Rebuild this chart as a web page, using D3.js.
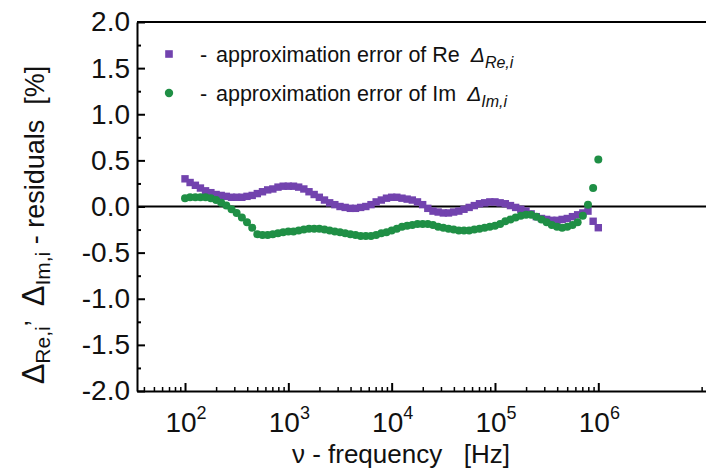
<!DOCTYPE html>
<html><head><meta charset="utf-8">
<script src="https://cdn.jsdelivr.net/npm/d3@7"></script>
<style>
body{margin:0;background:#fff}
svg{display:block}
text{font-family:"Liberation Sans",Arial,sans-serif;fill:#111}
</style>
</head><body>
<svg id="c" width="706" height="473"></svg>
<script>
// ---- data ----
const freq = [100,112,126,141,158,178,200,224,251,282,316,355,398,447,501,562,631,708,794,891,
  1000,1122,1259,1413,1585,1778,1995,2239,2512,2818,3162,3548,3981,4467,5012,5623,6310,7079,7943,8913,
  10000,11220,12589,14125,15849,17783,19953,22387,25119,28184,31623,35481,39811,44668,50119,56234,63096,70795,79433,89125,
  100000,112202,125893,141254,158489,177828,199526,223872,251189,281838,316228,354813,398107,446684,501187,562341,630957,707946,794328,891251,
  1000000];
const reErr = [0.30,0.26,0.23,0.20,0.17,0.15,0.13,0.12,0.11,0.10,0.10,0.10,0.11,0.12,0.14,0.16,0.18,0.19,0.21,0.22,
  0.22,0.22,0.21,0.19,0.16,0.13,0.10,0.07,0.04,0.02,0.00,-0.01,-0.02,-0.02,-0.01,0.00,0.02,0.05,0.07,0.09,
  0.10,0.10,0.09,0.08,0.07,0.05,0.02,-0.02,-0.05,-0.06,-0.07,-0.07,-0.06,-0.05,-0.03,-0.01,0.01,0.03,0.04,0.05,
  0.05,0.04,0.03,0.01,-0.01,-0.03,-0.05,-0.08,-0.11,-0.13,-0.14,-0.15,-0.15,-0.14,-0.13,-0.11,-0.09,-0.07,-0.05,-0.16,
  -0.23];
const imErr = [0.09,0.10,0.10,0.10,0.10,0.09,0.07,0.04,0.01,-0.03,-0.07,-0.12,-0.17,-0.23,-0.30,-0.31,-0.31,-0.30,-0.29,-0.28,
  -0.27,-0.27,-0.26,-0.25,-0.24,-0.24,-0.24,-0.25,-0.26,-0.27,-0.28,-0.29,-0.30,-0.31,-0.32,-0.32,-0.32,-0.31,-0.29,-0.28,
  -0.26,-0.24,-0.22,-0.21,-0.20,-0.19,-0.19,-0.19,-0.20,-0.22,-0.23,-0.24,-0.25,-0.26,-0.26,-0.26,-0.25,-0.24,-0.23,-0.22,
  -0.21,-0.19,-0.16,-0.14,-0.12,-0.10,-0.09,-0.09,-0.11,-0.14,-0.17,-0.20,-0.22,-0.23,-0.22,-0.20,-0.17,-0.10,0.02,0.20,
  0.51];
const yTicks = [-2.0,-1.5,-1.0,-0.5,0.0,0.5,1.0,1.5,2.0];
const yMinor = [-1.75,-1.25,-0.75,-0.25,0.25,0.75,1.25,1.75];
const xTickExps = [2,3,4,5,6];
const legendLabels = ["approximation error of Re","approximation error of Im"];
const legendSubs = ["Re,i","Im,i"];
const colPurple = "#7243ae", colGreen = "#1f8f45";

// ---- layout ----
const pL = 137, pT = 22, pB = 391, pR = 712;
const x = d3.scaleLog().domain([34.3, 1.26e7]).range([pL, pR]);
const y = d3.scaleLinear().domain([-2, 2]).range([pB, pT]);
const svg = d3.select("#c");

// minor x ticks (2..9 per decade, up to 10^6; one short tick at 10^7)
const xMinor = [1e7];
for (let e = 1; e <= 5; e++) for (let m = 2; m <= 9; m++) {
  const v = m * Math.pow(10, e);
  if (v > x.domain()[0] && v < x.domain()[1]) xMinor.push(v);
}

// frame lines (top, zero)
svg.append("line").attr("x1", pL).attr("x2", pR).attr("y1", pT).attr("y2", pT)
  .attr("stroke", "#000").attr("stroke-width", 2);
svg.append("line").attr("x1", pL).attr("x2", pR).attr("y1", y(0)).attr("y2", y(0))
  .attr("stroke", "#000").attr("stroke-width", 2.2);

// y axis
const yAxis = svg.append("g").attr("transform", `translate(${pL},0)`)
  .call(d3.axisLeft(y).tickValues(yTicks).tickSizeInner(-8).tickSizeOuter(0).tickPadding(7)
    .tickFormat(d3.format(".1f")));
yAxis.select(".domain").attr("stroke-width", 2);
yAxis.selectAll(".tick line").attr("stroke-width", 2);
yAxis.selectAll("text").style("font-size", "28px").attr("fill", "#111")
  .text(d => d3.format(".1f")(d).replace("\u2212", "-"));
const yAxisMinor = svg.append("g").attr("transform", `translate(${pL},0)`)
  .call(d3.axisLeft(y).tickValues(yMinor).tickSizeInner(-4).tickSizeOuter(0).tickFormat(""));
yAxisMinor.select(".domain").remove();
yAxisMinor.selectAll(".tick line").attr("stroke-width", 2);

// x axis
const xAxis = svg.append("g").attr("transform", `translate(0,${pB})`)
  .call(d3.axisBottom(x).tickValues(xTickExps.map(e => Math.pow(10, e))).tickSizeInner(-8)
    .tickSizeOuter(0).tickFormat(""));
xAxis.select(".domain").attr("stroke-width", 2);
xAxis.selectAll(".tick line").attr("stroke-width", 2);
const xAxisMinor = svg.append("g").attr("transform", `translate(0,${pB})`)
  .call(d3.axisBottom(x).tickValues(xMinor).tickSizeInner(-4).tickSizeOuter(0).tickFormat(""));
xAxisMinor.select(".domain").remove();
xAxisMinor.selectAll(".tick line").attr("stroke-width", 1.5);

// x tick labels 10^n
xTickExps.forEach(e => {
  const t = svg.append("text").attr("x", x(Math.pow(10, e)) + 1).attr("y", 432)
    .attr("text-anchor", "middle").style("font-size", "28px");
  t.append("tspan").text("10");
  t.append("tspan").attr("dy", -13).style("font-size", "18px").text(String(e));
});

// axis titles
svg.append("text").attr("x", 401).attr("y", 463).attr("text-anchor", "middle")
  .style("font-size", "26px").attr("xml:space", "preserve")
  .text("\u03BD - frequency   [Hz]");

const yt = svg.append("text").attr("transform", "translate(44,225) rotate(-90)")
  .attr("text-anchor", "middle").style("font-size", "27px").attr("xml:space", "preserve");
yt.append("tspan").style("font-size", "31px").text("\u0394");
yt.append("tspan").attr("dy", 6).style("font-size", "21px").text("Re,i");
yt.append("tspan").attr("dy", -6).text("\u2019  ");
yt.append("tspan").style("font-size", "31px").text("\u0394");
yt.append("tspan").attr("dy", 6).style("font-size", "21px").text("Im,i");
yt.append("tspan").attr("dy", -6).text(" - residuals  [%]");

// data points
const pts = freq.map((f, i) => ({f, re: reErr[i], im: imErr[i]}));
const sq = 7.4;
svg.append("g").selectAll("rect").data(pts).join("rect")
  .attr("x", d => x(d.f) - sq / 2).attr("y", d => y(d.re) - sq / 2)
  .attr("width", sq).attr("height", sq).attr("fill", colPurple);
svg.append("g").selectAll("circle").data(pts).join("circle")
  .attr("cx", d => x(d.f)).attr("cy", d => y(d.im)).attr("r", 4).attr("fill", colGreen);

// legend
const legY = [54, 93];
svg.append("rect").attr("x", 169 - 3.8).attr("y", legY[0] - 3.8).attr("width", 7.6).attr("height", 7.6)
  .attr("fill", colPurple);
svg.append("circle").attr("cx", 169).attr("cy", legY[1]).attr("r", 4.2).attr("fill", colGreen);
legendLabels.forEach((lab, i) => {
  const by = legY[i] + 8;
  svg.append("text").attr("x", 200).attr("y", by).style("font-size", "21.5px").text("-");
  const t = svg.append("text").attr("x", 216).attr("y", by).style("font-size", "21.5px").text(lab);
  const w = t.node().getComputedTextLength();
  const d = svg.append("text").attr("x", 216 + w + 11).attr("y", by)
    .style("font-size", "21px").style("font-style", "italic").attr("fill", "#333");
  d.append("tspan").text("\u0394");
  d.append("tspan").attr("dy", 6).style("font-size", "16px").text(legendSubs[i]);
});
</script>
</body></html>
